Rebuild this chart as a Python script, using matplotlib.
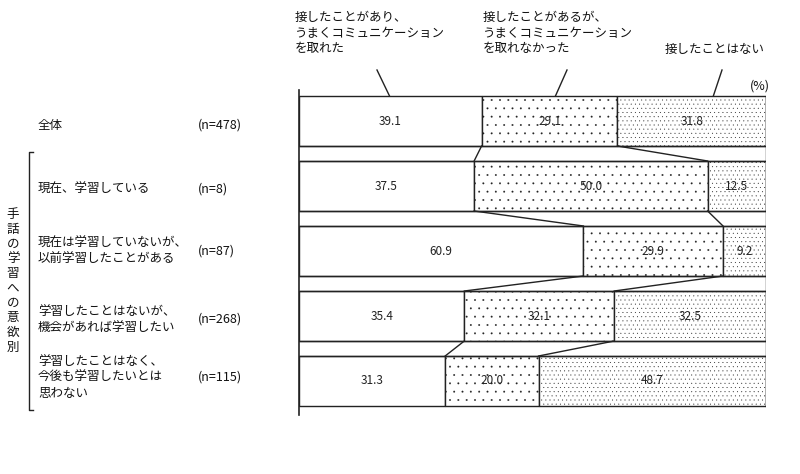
import matplotlib
matplotlib.use("Agg")
import matplotlib.pyplot as plt
import numpy as np

plt.rcParams['font.family'] = ['Noto Sans CJK JP', 'DejaVu Sans']
plt.rcParams['hatch.linewidth'] = 0.15
plt.rcParams['hatch.color'] = '#666666'

categories = ["全体", "現在、学習している", "現在は学習していないが、\n以前学習したことがある",
              "学習したことはないが、\n機会があれば学習したい",
              "学習したことはなく、\n今後も学習したいとは\n思わない"]
n_labels = ["(n=478)", "(n=8)", "(n=87)", "(n=268)", "(n=115)"]
series_names = ["接したことがあり、\nうまくコミュニケーション\nを取れた",
                "接したことがあるが、\nうまくコミュニケーション\nを取れなかった",
                "接したことはない"]
s1 = [39.1, 37.5, 60.9, 35.4, 31.3]
s2 = [29.1, 50.0, 29.9, 32.1, 20.0]
s3 = [31.8, 12.5, 9.2, 32.5, 48.7]
group_label = "手話の学習への意欲別"

W, H = 800, 474
fig = plt.figure(figsize=(8, 4.74), dpi=100)

# pixel geometry
X0, X1 = 299, 766
ROW0, STEP, BH = 121, 65, 50

ax = fig.add_axes([X0 / W, 0, (X1 - X0) / W, 1])
ax.set_xlim(0, 100)
ax.set_ylim(H, 0)
ax.axis('off')

ov = fig.add_axes([0, 0, 1, 1], zorder=-1)
ov.set_xlim(0, W)
ov.set_ylim(H, 0)
ov.axis('off')

ys = [ROW0 + STEP * i for i in range(len(categories))]
data = np.array([s1, s2, s3])
cum = np.cumsum(data, axis=0)
hatches = [None, '..', '....']
for k in range(3):
    left = cum[k] - data[k]
    ax.barh(ys, data[k], left=left, height=BH, color='white',
            edgecolor='#222222', linewidth=1.0, hatch=hatches[k], zorder=2)
    for y, l, v in zip(ys, left, data[k]):
        ax.text(l + v / 2, y, f"{v:.1f}", ha='center', va='center', fontsize=8.5,
                color='#222222', zorder=5)

# connecting lines between bars
for i in range(len(ys) - 1):
    for k in range(2):
        ax.plot([cum[k][i], cum[k][i + 1]], [ys[i] + BH / 2, ys[i + 1] - BH / 2],
                color='#222222', lw=1.0, zorder=3)
    ax.plot([0, 100], [ys[i] + BH / 2, ys[i] + BH / 2], color='#222222', lw=1.0, zorder=3)
    ax.plot([0, 100], [ys[i + 1] - BH / 2, ys[i + 1] - BH / 2], color='#222222', lw=1.0, zorder=3)
# right frame line
ax.plot([100, 100], [ys[0] - BH / 2, ys[-1] + BH / 2], color='#222222', lw=1.0, zorder=3)
# left axis line
ax.plot([0, 0], [90, 415], color='#222222', lw=1.2, zorder=4, clip_on=False)

# header labels with leader lines
hx = [295, 483, 665]
hy = [17, 17, 49]
lead = [((377, 70), (390, 97)), ((567, 70), (555, 97)), ((722, 70), (713, 97))]
for t, x, y, ((xa, ya), (xb, yb)) in zip(series_names, hx, hy, lead):
    ov.text(x, y - 6, t, ha='left', va='top', fontsize=9, linespacing=1.25, color='#111111')
    ov.plot([xa, xb], [ya, yb], color='#222222', lw=1.0)
ov.text(760, 86, "(%)", ha='center', va='center', fontsize=9, color='#111111')

# row labels
label_y = [125, 189, 251, 319, 377]
for t, n, y in zip(categories, n_labels, label_y):
    ov.text(38, y, t, ha='left', va='center', fontsize=9, linespacing=1.3, color='#111111')
    ov.text(198, y, n, ha='left', va='center', fontsize=9, color='#111111')

# group bracket and vertical label
ov.plot([33, 29, 29, 33], [152, 152, 410, 410], color='#222222', lw=1.0)
ov.text(13, 281, "\n".join(group_label), ha='center', va='center', fontsize=9,
        linespacing=1.17, color='#111111')

fig.savefig("out.png", dpi=100)
